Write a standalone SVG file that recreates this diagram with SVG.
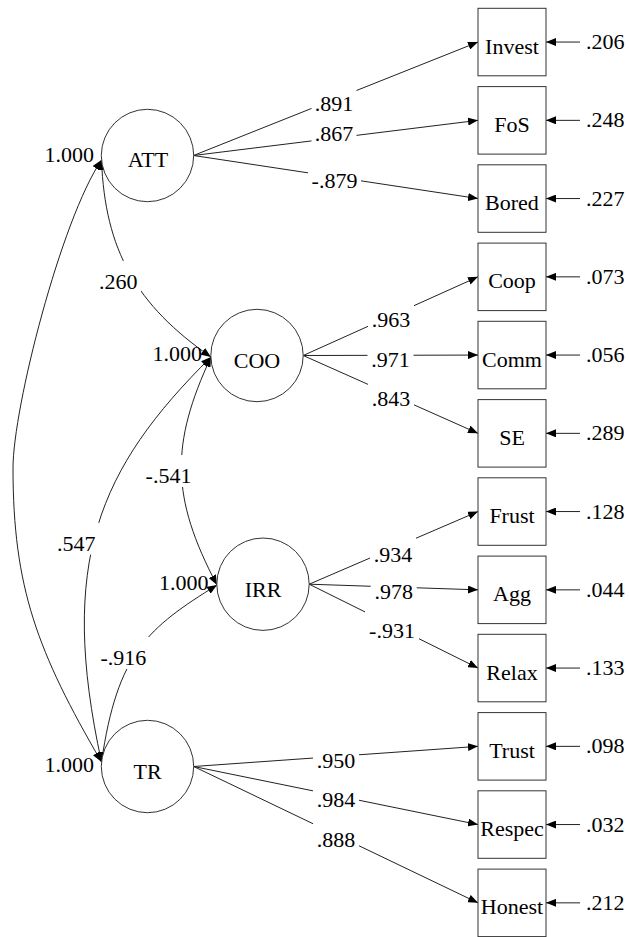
<svg xmlns="http://www.w3.org/2000/svg" width="629" height="937" viewBox="0 0 629 937">
  <style>
    .cov { fill: none; stroke: #222; stroke-width: 1; marker-start: url(#ah); marker-end: url(#ah); }
    .ln { fill: none; stroke: #222; stroke-width: 1; marker-end: url(#ah); }
    .gap { fill: #fff; }
    .node { fill: #fff; stroke: #333; stroke-width: 1; }
  </style>
  <defs>
    <marker id="ah" viewBox="0 0 10 8" refX="10" refY="4" markerWidth="10" markerHeight="8" markerUnits="userSpaceOnUse" orient="auto-start-reverse">
      <path d="M0,0 L10,4 L0,8 z" fill="#000"/>
    </marker>
  </defs>
  <rect width="629" height="937" fill="#fff"/>

  <g id="connectors">
    <!-- covariances between factors -->
    <path class="cov" d="M101.5,160 C61,220 13,408 13,468 C13,588 37.6,652 101.5,762"/>
    <path class="cov" d="M101.5,160 C105,250 136,305 211,357"/>
    <path class="cov" d="M211,357 C170.5,444 170.5,497 217,585"/>
    <path class="cov" d="M211,357 C98,469 58,562 101.5,762"/>
    <path class="cov" d="M217,585 C148,628 117.5,652 101.5,762"/>

    <!-- factor loadings -->
    <line class="ln" x1="193.5" y1="155.5" x2="478" y2="42.05"/>
    <line class="ln" x1="193.5" y1="155.5" x2="478" y2="120.35"/>
    <line class="ln" x1="193.5" y1="155.5" x2="478" y2="198.55"/>
    <line class="ln" x1="303.2" y1="355.5" x2="478" y2="276.85"/>
    <line class="ln" x1="303.2" y1="355.5" x2="478" y2="355.05"/>
    <line class="ln" x1="303.2" y1="355.5" x2="478" y2="433.35"/>
    <line class="ln" x1="309.2" y1="584.2" x2="478" y2="511.55"/>
    <line class="ln" x1="309.2" y1="584.2" x2="478" y2="589.85"/>
    <line class="ln" x1="309.2" y1="584.2" x2="478" y2="668.05"/>
    <line class="ln" x1="193.7" y1="766.5" x2="478" y2="746.35"/>
    <line class="ln" x1="193.7" y1="766.5" x2="478" y2="824.55"/>
    <line class="ln" x1="193.7" y1="766.5" x2="478" y2="902.85"/>

    <!-- error terms -->
    <line class="ln" x1="580" y1="42.05" x2="546" y2="42.05"/>
    <line class="ln" x1="580" y1="120.35" x2="546" y2="120.35"/>
    <line class="ln" x1="580" y1="198.55" x2="546" y2="198.55"/>
    <line class="ln" x1="580" y1="276.85" x2="546" y2="276.85"/>
    <line class="ln" x1="580" y1="355.05" x2="546" y2="355.05"/>
    <line class="ln" x1="580" y1="433.35" x2="546" y2="433.35"/>
    <line class="ln" x1="580" y1="511.55" x2="546" y2="511.55"/>
    <line class="ln" x1="580" y1="589.85" x2="546" y2="589.85"/>
    <line class="ln" x1="580" y1="668.05" x2="546" y2="668.05"/>
    <line class="ln" x1="580" y1="746.35" x2="546" y2="746.35"/>
    <line class="ln" x1="580" y1="824.55" x2="546" y2="824.55"/>
    <line class="ln" x1="580" y1="902.85" x2="546" y2="902.85"/>

    <!-- blank space behind the estimates -->
    <rect class="gap" x="96" y="261" width="45" height="32"/>
    <rect class="gap" x="143" y="455" width="51" height="32"/>
    <rect class="gap" x="53" y="522.7" width="46" height="32"/>
    <rect class="gap" x="97" y="637" width="53" height="32"/>
    <rect class="gap" x="311.5" y="82.5" width="45" height="32"/>
    <rect class="gap" x="311.5" y="113" width="45" height="32"/>
    <rect class="gap" x="308" y="160" width="53" height="32"/>
    <rect class="gap" x="368" y="299" width="46" height="32"/>
    <rect class="gap" x="367.5" y="338.7" width="46" height="32"/>
    <rect class="gap" x="368" y="377.7" width="46" height="32"/>
    <rect class="gap" x="370" y="533.7" width="46" height="32"/>
    <rect class="gap" x="370.7" y="571.3" width="46" height="32"/>
    <rect class="gap" x="365" y="609.7" width="54" height="32"/>
    <rect class="gap" x="313" y="740.3" width="46" height="32"/>
    <rect class="gap" x="313" y="779.3" width="46" height="32"/>
    <rect class="gap" x="313" y="818.7" width="46" height="32"/>

    <!-- correlations and standardized loadings -->
    <g font-family="Times New Roman, Liberation Serif, serif" font-size="22" fill="#000" text-anchor="middle">
      <text x="118.3" y="289.3">.260</text>
      <text x="168.5" y="483.3">-.541</text>
      <text x="76.3" y="550.7">.547</text>
      <text x="123.3" y="665">-.916</text>

      <text x="334" y="110.5">.891</text>
      <text x="334" y="141">.867</text>
      <text x="334.5" y="188">-.879</text>
      <text x="391" y="327">.963</text>
      <text x="390.5" y="366.7">.971</text>
      <text x="391" y="405.7">.843</text>
      <text x="393" y="561.7">.934</text>
      <text x="393.7" y="599.3">.978</text>
      <text x="392" y="637.7">-.931</text>
      <text x="336" y="768.3">.950</text>
      <text x="336" y="807.3">.984</text>
      <text x="336" y="846.7">.888</text>
    </g>

    <!-- error variances -->
    <g font-family="Times New Roman, Liberation Serif, serif" font-size="22" fill="#000">
      <text x="586" y="49">.206</text>
      <text x="586" y="127.3">.248</text>
      <text x="586" y="205.5">.227</text>
      <text x="586" y="283.8">.073</text>
      <text x="586" y="362">.056</text>
      <text x="586" y="440.3">.289</text>
      <text x="586" y="518.5">.128</text>
      <text x="586" y="596.8">.044</text>
      <text x="586" y="675">.133</text>
      <text x="586" y="753.3">.098</text>
      <text x="586" y="831.5">.032</text>
      <text x="586" y="909.8">.212</text>
    </g>
  </g>

  <!-- latent factors -->
  <g font-family="Times New Roman, Liberation Serif, serif" font-size="22">
    <g id="ATT">
      <circle class="node" cx="147.5" cy="155.5" r="46.2"/>
      <text x="148" y="166.7" text-anchor="middle">ATT</text>
      <text x="94" y="162.3" text-anchor="end">1.000</text>
    </g>
    <g id="COO">
      <circle class="node" cx="257" cy="355.5" r="46.2"/>
      <text x="257" y="367.5" text-anchor="middle">COO</text>
      <text x="202" y="361.3" text-anchor="end">1.000</text>
    </g>
    <g id="IRR">
      <circle class="node" cx="263" cy="584.2" r="46.2"/>
      <text x="263" y="596.5" text-anchor="middle">IRR</text>
      <text x="208.5" y="590" text-anchor="end">1.000</text>
    </g>
    <g id="TR">
      <circle class="node" cx="147.5" cy="766.5" r="46.2"/>
      <text x="147.5" y="778.5" text-anchor="middle">TR</text>
      <text x="94" y="771.5" text-anchor="end">1.000</text>
    </g>
  </g>

  <!-- observed indicators -->
  <g font-family="Times New Roman, Liberation Serif, serif" font-size="22" text-anchor="middle">
    <g id="Invest"><rect class="node" x="478" y="8.3" width="68" height="67.5"/><text x="512" y="53.5">Invest</text></g>
    <g id="FoS"><rect class="node" x="478" y="86.6" width="68" height="67.5"/><text x="512" y="131.8">FoS</text></g>
    <g id="Bored"><rect class="node" x="478" y="164.8" width="68" height="67.5"/><text x="512" y="210">Bored</text></g>
    <g id="Coop"><rect class="node" x="478" y="243.1" width="68" height="67.5"/><text x="512" y="288.3">Coop</text></g>
    <g id="Comm"><rect class="node" x="478" y="321.3" width="68" height="67.5"/><text x="512" y="366.5">Comm</text></g>
    <g id="SE"><rect class="node" x="478" y="399.6" width="68" height="67.5"/><text x="512" y="444.8">SE</text></g>
    <g id="Frust"><rect class="node" x="478" y="477.8" width="68" height="67.5"/><text x="512" y="523">Frust</text></g>
    <g id="Agg"><rect class="node" x="478" y="556.1" width="68" height="67.5"/><text x="512" y="601.3">Agg</text></g>
    <g id="Relax"><rect class="node" x="478" y="634.3" width="68" height="67.5"/><text x="512" y="679.5">Relax</text></g>
    <g id="Trust"><rect class="node" x="478" y="712.6" width="68" height="67.5"/><text x="512" y="757.8">Trust</text></g>
    <g id="Respec"><rect class="node" x="478" y="790.8" width="68" height="67.5"/><text x="512" y="836">Respec</text></g>
    <g id="Honest"><rect class="node" x="478" y="869.1" width="68" height="67.5"/><text x="512" y="914.3">Honest</text></g>
  </g>
</svg>
